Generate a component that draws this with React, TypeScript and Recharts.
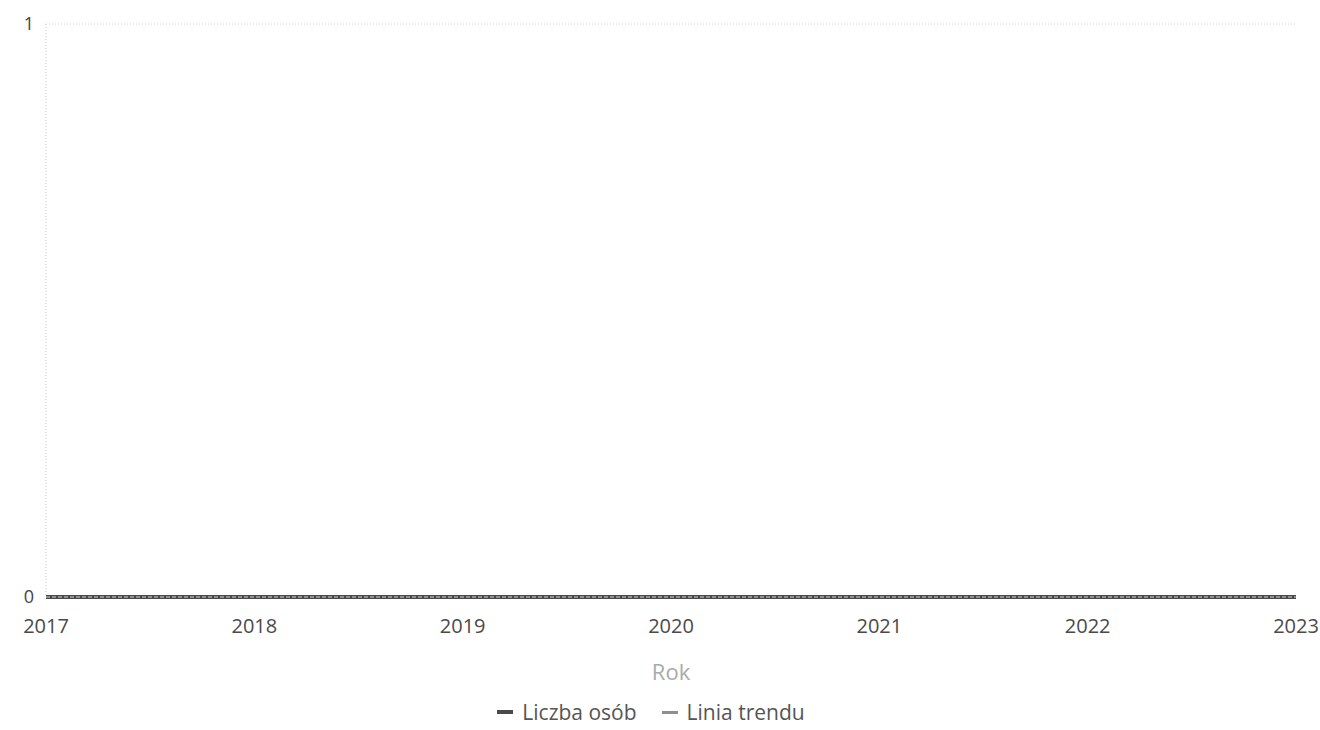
import { LineChart, Line, XAxis, YAxis, CartesianGrid, Legend } from 'recharts'

const years = ['2017', '2018', '2019', '2020', '2021', '2022', '2023']
const liczbaOsob = [0, 0, 0, 0, 0, 0, 0]
const liniaTrendu = [0, 0, 0, 0, 0, 0, 0]
const yTicks = [0, 1]

const seriesNames = ['Liczba osób', 'Linia trendu']
const seriesColors = ['#4a4a4a', '#8f8f8f']

const data = years.map((rok, i) => ({ rok, osoby: liczbaOsob[i], trend: liniaTrendu[i] }))

const font = '"Open Sans", "Noto Sans", sans-serif'

function LegendBox() {
  return (
    <div
      style={{
        display: 'flex',
        justifyContent: 'center',
        gap: 25,
        paddingLeft: 6,
        height: 30,
        alignItems: 'center',
        fontFamily: font,
        fontSize: 21,
        color: '#555',
      }}
    >
      {seriesNames.map((name, i) => (
        <span key={name} style={{ display: 'flex', alignItems: 'center', gap: 9 }}>
          <span
            style={{
              display: 'inline-block',
              width: 16,
              height: i === 0 ? 4 : 3,
              background: seriesColors[i],
            }}
          />
          {name}
        </span>
      ))}
    </div>
  )
}

export default function App() {
  return (
    <div style={{ position: 'absolute', left: 0, top: 0, background: '#fff' }}>
      <LineChart width={1320} height={730} data={data} margin={{ top: 24, right: 24, bottom: 3, left: 0 }}>
        <CartesianGrid vertical={false} stroke="#d4d4d4" strokeDasharray="1 2" />
        <XAxis
          dataKey="rok"
          axisLine={false}
          tickLine={false}
          tick={{ fill: '#4a4a4a', fontSize: 20, fontFamily: font }}
          tickMargin={16}
          height={100}
          interval={0}
          label={{ value: 'Rok', position: 'insideBottom', offset: 17, fill: '#aaa', fontSize: 22, fontFamily: font }}
        />
        <YAxis
          domain={[0, 1]}
          ticks={yTicks}
          width={46}
          axisLine={{ stroke: '#c4c4c4', strokeDasharray: '1 2' }}
          tickLine={false}
          tick={{ fill: '#444', fontSize: 18, fontFamily: font }}
          tickMargin={6}
        />
        <Legend verticalAlign="bottom" content={() => <LegendBox />} />
        <Line dataKey="osoby" name={seriesNames[0]} stroke={seriesColors[0]} strokeWidth={4} dot={false} isAnimationActive={false} />
        <Line dataKey="trend" name={seriesNames[1]} stroke={seriesColors[1]} strokeWidth={2} strokeDasharray="4 2" dot={false} isAnimationActive={false} />
      </LineChart>
    </div>
  )
}
